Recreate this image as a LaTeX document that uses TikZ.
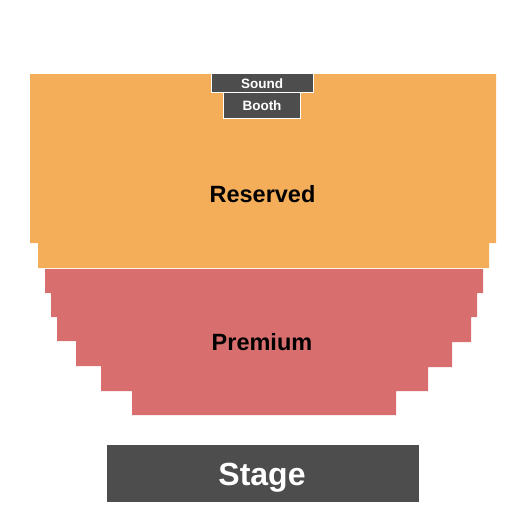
\documentclass[tikz,border=0pt]{standalone}
\usepackage{fontspec}
\setmainfont{Liberation Sans}
\usepackage{xcolor}
\usepackage{tikz}
\definecolor{reservedorange}{HTML}{F4AE5A}
\definecolor{premiumred}{HTML}{D86F6E}
\definecolor{stagegray}{HTML}{4D4D4D}
\tikzstyle{section}=[draw=none]
\tikzstyle{boothbox}=[fill=stagegray,draw=white,line width=0.8pt]
\tikzstyle{seclabel}=[anchor=base,inner sep=0pt,font=\bfseries\fontsize{23.5}{23.5}\selectfont]
\tikzstyle{boothlabel}=[anchor=base,inner sep=0pt,text=white,font=\bfseries\fontsize{13.5}{13.5}\selectfont]

\begin{document}
\begin{tikzpicture}[x=1pt,y=-1pt]
      \useasboundingbox (0,0) rectangle (525,525);
      % seating sections
      \fill[section,reservedorange] (30,74) -- (496,74) -- (496,243) -- (489,243) -- (489,268)
            -- (38,268) -- (38,243) -- (30,243) -- cycle;
      \fill[section,premiumred] (45,269) -- (483,269) -- (483,293) -- (477,293) -- (477,317)
            -- (471,317) -- (471,342) -- (452,342) -- (452,367) -- (428,367) -- (428,391)
            -- (396,391) -- (396,415) -- (132,415) -- (132,391) -- (101,391) -- (101,366)
            -- (76,366) -- (76,341) -- (57,341) -- (57,317) -- (51,317) -- (51,293)
            -- (45,293) -- cycle;
      % sound booth
      \draw[boothbox] (211,73) rectangle (313,92);
      \draw[boothbox] (223,92) rectangle (300,118);
      % stage
      \fill[stagegray] (107,445) rectangle (419,502);

      \node[boothlabel] (sound) at (262,88) {Sound};
      \node[boothlabel] (booth) at (262,110) {Booth};
      \node[seclabel] (reserved) at (262.5,202) {Reserved};
      \node[seclabel] (premium) at (262,350) {Premium};
      \node[seclabel,text=white,font=\bfseries\fontsize{32}{32}\selectfont] (stage) at (262,485) {Stage};
    \end{tikzpicture}
\end{document}
